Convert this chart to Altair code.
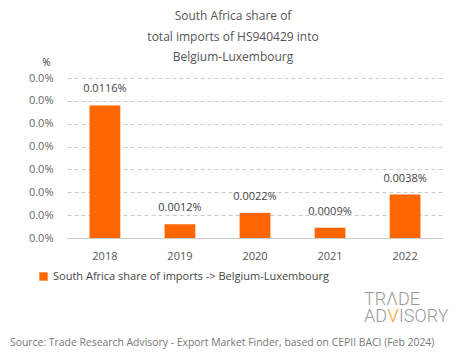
import altair as alt
import pandas as pd

years = ["2018", "2019", "2020", "2021", "2022"]
shares = [0.0116, 0.0012, 0.0022, 0.0009, 0.0038]
series_name = "South Africa share of imports -> Belgium-Luxembourg"
y_ticks = [0, 0.002, 0.004, 0.006, 0.008, 0.010, 0.012, 0.014]
title_lines = ["South Africa share of", "total imports of HS940429 into", "Belgium-Luxembourg"]
source_text = "Source: Trade Research Advisory - Export Market Finder, based on CEPII BACI (Feb 2024)"

FONT = "Open Sans"
ORANGE = "#ff6600"

df = pd.DataFrame({"year": years, "share": shares, "series": [series_name] * len(years)})

base = alt.Chart(df).encode(
    x=alt.X("year:N", title=None, sort=years,
            scale=alt.Scale(paddingInner=0.59, paddingOuter=0.3),
            axis=alt.Axis(labelAngle=0, labelPadding=12, ticks=False, domain=True,
                          domainColor="#cccccc", labelColor="#555555", labelFontSize=11,
                          labelFont=FONT, grid=False)),
    y=alt.Y("share:Q", title="%", scale=alt.Scale(domain=[0, 0.014], nice=False),
            axis=alt.Axis(values=y_ticks, labelExpr="format(datum.value, '.1f') + '%'",
                          ticks=False, domain=False, labelPadding=14, labelColor="#666666",
                          labelFontSize=11, labelFont=FONT, grid=True, gridDash=[4, 3],
                          gridColor="#cccccc", titleAngle=0, titleX=-21, titleY=-16,
                          titleAlign="center", titleBaseline="middle", titleFontWeight="normal",
                          titleFontSize=10, titleColor="#333333", titleFont=FONT)),
)

bars = base.mark_bar(color=ORANGE).encode(
    color=alt.Color("series:N", scale=alt.Scale(range=[ORANGE]),
                    legend=alt.Legend(title=None, orient="none", legendX=-29, legendY=193,
                                      symbolType="square", symbolSize=70, symbolStrokeWidth=0,
                                      labelFontSize=11, labelFont=FONT, labelColor="#444444",
                                      labelLimit=400))
)

labels = base.transform_calculate(
    label="format(datum.share, '.4f') + '%'"
).mark_text(dy=-11, baseline="bottom", fontSize=11, font=FONT, color="#444444").encode(
    text="label:N"
)

one = pd.DataFrame({"k": [0]})
source = alt.Chart(one).mark_text(align="left", baseline="middle", fontSize=10.4, font=FONT,
                                  color="#777777").encode(
    x=alt.value(-57), y=alt.value(265), text=alt.value(source_text))

LOGO_FS = 18
logo1 = alt.Chart(one).mark_text(align="center", baseline="middle", fontSize=LOGO_FS, font="Roboto",
                                 fontWeight=300, color="#999999").encode(
    x=alt.value(325), y=alt.value(222), text=alt.value("TR\u039bDE"))
logo2a = alt.Chart(one).mark_text(align="right", baseline="middle", fontSize=LOGO_FS, font="Roboto",
                                  fontWeight=300, color="#999999").encode(
    x=alt.value(320), y=alt.value(239), text=alt.value("AD"))
logo2b = alt.Chart(one).mark_text(align="center", baseline="middle", fontSize=LOGO_FS, font="Roboto",
                                  fontWeight=300, color="#f0a020").encode(
    x=alt.value(326), y=alt.value(239), text=alt.value("V"))
logo2c = alt.Chart(one).mark_text(align="left", baseline="middle", fontSize=LOGO_FS, font="Roboto",
                                  fontWeight=300, color="#999999").encode(
    x=alt.value(332), y=alt.value(239), text=alt.value("ISORY"))

chart = alt.layer(bars, labels, source, logo1, logo2a, logo2b, logo2c).properties(
    width=376, height=160,
    padding={"left": 59, "top": 70, "right": 14, "bottom": 113},
    autosize=alt.AutoSizeParams(type="none"),
    title=alt.TitleParams(text=title_lines, anchor="middle", dx=-22, dy=25, offset=18, fontSize=12,
                          font=FONT, fontWeight="normal", color="#555555", lineHeight=20.5),
).configure_view(stroke=None)

chart.save("out.html", embed_options={"renderer": "svg", "actions": False})
